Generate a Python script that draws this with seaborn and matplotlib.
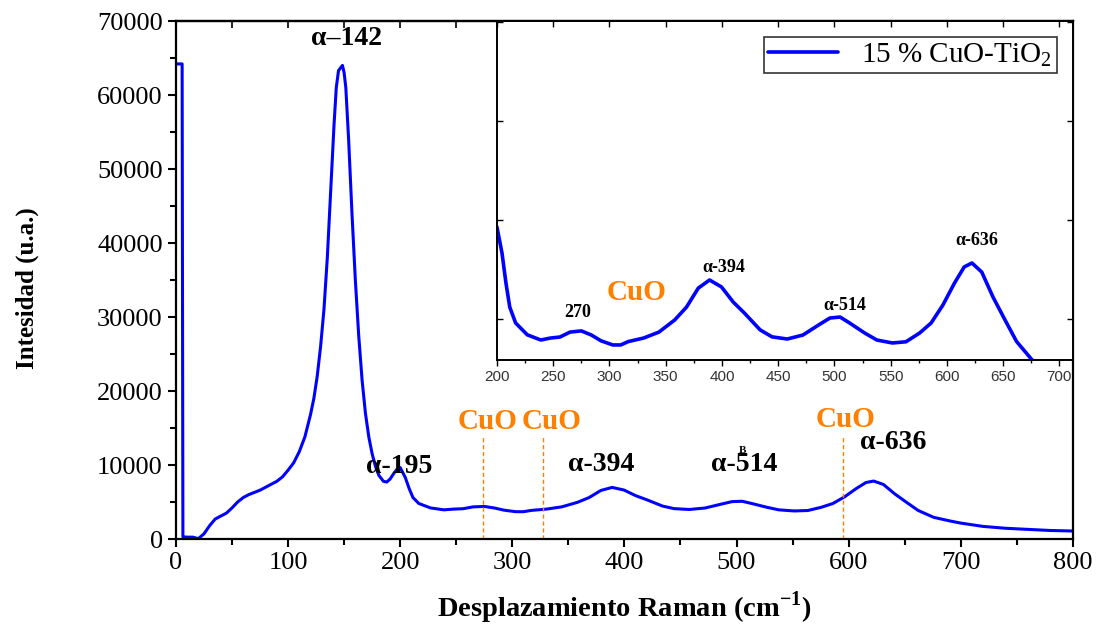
"""
Raman spectrum of 15 % CuO-TiO2 with zoomed inset (200-700 cm-1).
"""

import numpy as np
import pandas as pd
import matplotlib
matplotlib.use("Agg")
import matplotlib.pyplot as plt
import matplotlib.ticker as mticker
import seaborn as sns

# ---- data ----
raman_shift = [
    1, 5.5, 6.2, 10, 15, 20, 25, 30, 35, 40, 45, 50, 55, 60, 65, 70, 75, 80,
    85, 90, 95, 100, 105, 110, 115, 120, 123, 126, 129, 132, 135, 138, 141,
    143, 145, 147, 148.5, 150, 151.5, 154, 157, 160, 163, 166, 169, 172,
    175, 178, 181, 185, 188, 191, 194, 197, 200, 204.5, 208, 211.4, 216.6,
    227, 239, 247.7, 256, 265, 275, 284, 292.5, 303, 310, 316.7, 330.5, 344,
    358, 368.5, 379, 389, 399.6, 410, 420, 434, 444.5, 458, 472, 486, 496,
    505, 513.5, 527, 537.7, 551.5, 563.6, 575.7, 586, 596.4, 606.8, 615.4,
    622.3, 631, 641, 651.7, 662, 675.8, 690, 700, 720, 740, 760, 780, 800,
]
intensity = [
    64200, 64200, 300, 250, 250, 50, 700, 1800, 2700, 3100, 3500, 4200,
    5000, 5600, 6000, 6300, 6600, 7000, 7400, 7800, 8400, 9300, 10300,
    11800, 13800, 16800, 19000, 22000, 26000, 31000, 38000, 47000, 56000,
    61000, 63300, 63700, 64000, 63000, 61000, 54000, 44000, 35000, 27500,
    21500, 17000, 13800, 11500, 9800, 8600, 7800, 7700, 8100, 8800, 9400,
    9650, 8330, 6820, 5600, 4800, 4200, 3940, 4040, 4090, 4340, 4400, 4190,
    3900, 3690, 3690, 3860, 4040, 4340, 4950, 5600, 6560, 6970, 6620, 5860,
    5300, 4450, 4100, 3990, 4190, 4700, 5050, 5100, 4800, 4290, 3940, 3790,
    3850, 4290, 4800, 5700, 6820, 7630, 7830, 7370, 6110, 4950, 3860, 2930,
    2450, 2150, 1700, 1450, 1300, 1150, 1080,
]

# peak labels on the main plot
main_labels = ["α–142", "α-195", "α-394", "α-514", "α-636"]
main_label_x = [152, 199, 379, 507, 640]
main_label_y = [67700, 9860, 10100, 10100, 13000]

# CuO reference positions
cuo_lines = [274, 327, 595]
cuo_line_top = 13800
cuo_text_x = [278, 335, 597]
cuo_text_y = [15900, 15900, 16200]

# inset labels
inset_labels = ["270", "α-394", "α-514", "α-636"]
inset_label_x = [272, 402, 509, 627]
inset_label_y = [5350, 7600, 5700, 8950]

spec = pd.DataFrame({"shift": raman_shift, "intensity": intensity})

sns.set_theme(style="ticks")
plt.rcParams["font.family"] = ["Liberation Serif", "DejaVu Serif"]
plt.rcParams["mathtext.fontset"] = "custom"
plt.rcParams["mathtext.rm"] = "Liberation Serif"
plt.rcParams["mathtext.bf"] = "Liberation Serif:bold"
for key in ["text.color", "axes.labelcolor", "xtick.color", "ytick.color",
            "axes.edgecolor"]:
    plt.rcParams[key] = "black"

BLUE = "#0000FF"
ORANGE = "#FF8000"

fig = plt.figure(figsize=(10.97, 6.25), dpi=100)
ax = fig.add_axes([0.1604, 0.1376, 0.8176, 0.8288])

sns.lineplot(data=spec, x="shift", y="intensity", color=BLUE, linewidth=2.2,
             ax=ax, sort=False)
ax.set_xlim(0, 800)
ax.set_ylim(0, 70000)
ax.xaxis.set_major_locator(mticker.MultipleLocator(100))
ax.xaxis.set_minor_locator(mticker.MultipleLocator(50))
ax.yaxis.set_major_locator(mticker.MultipleLocator(10000))
ax.yaxis.set_minor_locator(mticker.MultipleLocator(5000))
ax.tick_params(which="both", direction="out", width=1.5, labelsize=19)
ax.tick_params(which="major", length=6)
ax.tick_params(which="minor", length=4)
for s in ax.spines.values():
    s.set_linewidth(1.6)

# inward ticks along the top edge, every 50
top = ax.secondary_xaxis("top")
top.xaxis.set_major_locator(mticker.MultipleLocator(50))
top.tick_params(direction="in", length=5, width=1.2, labeltop=False)
top.spines["top"].set_linewidth(1.6)

ax.set_xlabel("Desplazamiento Raman (cm$^{\\mathbf{-1}}$)", fontsize=20.5,
              fontweight="bold")
ax.set_ylabel("Intesidad (u.a.)", fontsize=18, fontweight="bold")
ax.xaxis.set_label_coords(0.5, -0.097)
ax.yaxis.set_label_coords(-0.153, 0.485)

for txt, x, y in zip(main_labels, main_label_x, main_label_y):
    ax.text(x, y, txt, ha="center", va="center", fontsize=20,
            fontweight="bold")
ax.text(505, 11900, "B", ha="center", va="center", fontsize=8,
        fontweight="bold")

ax.vlines(cuo_lines, 0, cuo_line_top, colors=ORANGE, linestyles=(0, (3, 2)),
          linewidth=1.0)
for x, y in zip(cuo_text_x, cuo_text_y):
    ax.text(x, y, "CuO", ha="center", va="center", fontsize=21,
            fontweight="bold", color=ORANGE)

# ---- inset ----
axin = fig.add_axes([0.453, 0.424, 0.525, 0.5424])
sns.lineplot(data=spec, x="shift", y="intensity", color=BLUE, linewidth=2.6,
             ax=axin, sort=False, label="15 % CuO-TiO$_\\mathrm{2}$")
axin.set_xlim(200, 712)
axin.set_ylim(2930, 20050)
axin.xaxis.set_major_locator(mticker.MultipleLocator(50))
axin.xaxis.set_minor_locator(mticker.MultipleLocator(25))
axin.yaxis.set_major_locator(mticker.MultipleLocator(5000))
axin.set_yticklabels([])
axin.set_xlabel("")
axin.set_ylabel("")
axin.tick_params(axis="x", which="both", direction="out", labelsize=11,
                 labelcolor="#333333", width=1.0)
axin.tick_params(axis="x", which="major", length=4)
axin.tick_params(axis="x", which="minor", length=2.5)
axin.tick_params(axis="y", which="both", direction="in", length=4, width=1.0,
                 right=True)
for lbl in axin.get_xticklabels():
    lbl.set_fontfamily("Liberation Sans")
for s in axin.spines.values():
    s.set_linewidth(1.4)

in_top = axin.secondary_xaxis("top")
in_top.xaxis.set_major_locator(mticker.MultipleLocator(50))
in_top.tick_params(direction="in", length=4, width=1.0, labeltop=False)

for txt, x, y in zip(inset_labels, inset_label_x, inset_label_y):
    axin.text(x, y, txt, ha="center", va="center", fontsize=13,
              fontweight="bold")
axin.text(324, 6350, "CuO", ha="center", va="center", fontsize=21,
          fontweight="bold", color=ORANGE)

leg = axin.legend(loc="upper right", fontsize=21, frameon=True, fancybox=False,
                  edgecolor="black", handlelength=2.4, borderpad=0.15,
                  borderaxespad=0, bbox_to_anchor=(0.972, 0.953))
leg.get_frame().set_linewidth(1.2)

plt.savefig("out.png", dpi=100)
plt.close()
